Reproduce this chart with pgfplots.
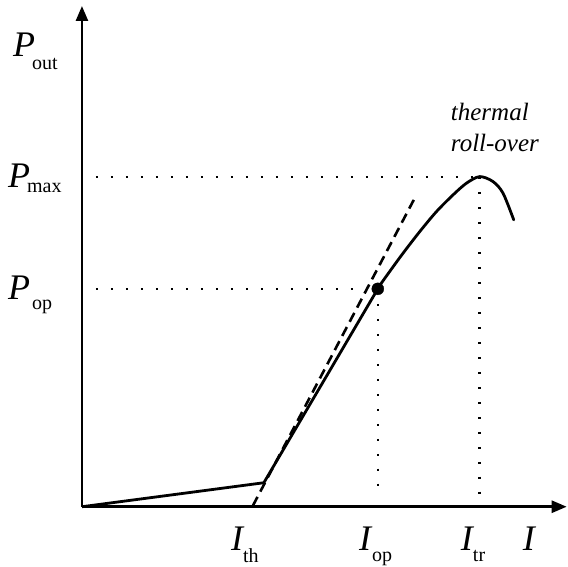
\documentclass[border=0pt]{standalone}
\usepackage{pgfplots}
\pgfplotsset{compat=1.18}
\usepackage{fontspec}
\setmainfont{Liberation Serif}
\usetikzlibrary{arrows.meta}
\newcommand{\BigL}[1]{\fontsize{36}{40}\selectfont\itshape #1}
\newcommand{\SubL}[1]{\fontsize{20}{24}\selectfont #1}
\begin{document}
\begin{tikzpicture}
\begin{axis}[
  x=1pt, y=1pt,
  xmin=0, xmax=568, ymin=0, ymax=567,
  hide axis, clip=false,
]
% bounding area
\path (axis cs:0,0) rectangle (axis cs:568,567);
% axes
\addplot[black, line width=2.6pt, -{Triangle[width=12pt,length=15pt]}] coordinates {(82,60) (82,561)};
\addplot[black, line width=2.6pt, -{Triangle[width=12pt,length=15pt]}] coordinates {(82,60) (567,60)};
% dotted guide lines
\addplot[black, line width=2.6pt, dash pattern=on 2.4pt off 12.6pt] coordinates {(96,390) (480,390)};
\addplot[black, line width=2.6pt, dash pattern=on 2.4pt off 12.6pt] coordinates {(96,278) (378,278)};
\addplot[black, line width=2.6pt, dash pattern=on 2.4pt off 12.6pt] coordinates {(480,390) (480,63)};
\addplot[black, line width=2.6pt, dash pattern=on 2.4pt off 12.6pt] coordinates {(378,278) (378,70)};
% dashed slope line
\addplot[black, line width=2.6pt, dash pattern=on 10pt off 6pt] coordinates {(253,61) (414,367)};
% L-I curve
\addplot[black, line width=2.8pt, line join=round] coordinates {(82,60) (264,84) (378,278)};
\addplot[black, line width=2.8pt, smooth, line cap=round] coordinates {
 (377.5,278) (390,295.5) (403.3,313.7) (420,335.3) (436.7,355.3) (453.3,372) (466.7,383.7) (480,390.3) (493.3,385.3) (503.3,373.7) (514,347)};
% operating point
\addplot[black, only marks, mark=*, mark size=6pt] coordinates {(378,278)};
% labels
\node[anchor=base west, inner sep=0] at (axis cs:13,510) {\BigL{P}};
\node[anchor=base west, inner sep=0] at (axis cs:32,497) {\SubL{out}};
\node[anchor=base west, inner sep=0] at (axis cs:8,379) {\BigL{P}};
\node[anchor=base west, inner sep=0] at (axis cs:27,374) {\SubL{max}};
\node[anchor=base west, inner sep=0] at (axis cs:8,267) {\BigL{P}};
\node[anchor=base west, inner sep=0] at (axis cs:32,257) {\SubL{op}};
\node[anchor=base west, inner sep=0] at (axis cs:231,16) {\BigL{I}};
\node[anchor=base west, inner sep=0] at (axis cs:243,4) {\SubL{th}};
\node[anchor=base west, inner sep=0] at (axis cs:359,16) {\BigL{I}};
\node[anchor=base west, inner sep=0] at (axis cs:372,5) {\SubL{op}};
\node[anchor=base west, inner sep=0] at (axis cs:461,16) {\BigL{I}};
\node[anchor=base west, inner sep=0] at (axis cs:473,5) {\SubL{tr}};
\node[anchor=base west, inner sep=0] at (axis cs:523,16) {\BigL{I}};
\node[anchor=base west, inner sep=0] at (axis cs:451,446) {\fontsize{25}{28}\selectfont\itshape thermal};
\node[anchor=base west, inner sep=0] at (axis cs:451,415) {\fontsize{25}{28}\selectfont\itshape roll-over};
\end{axis}
\end{tikzpicture}
\end{document}
